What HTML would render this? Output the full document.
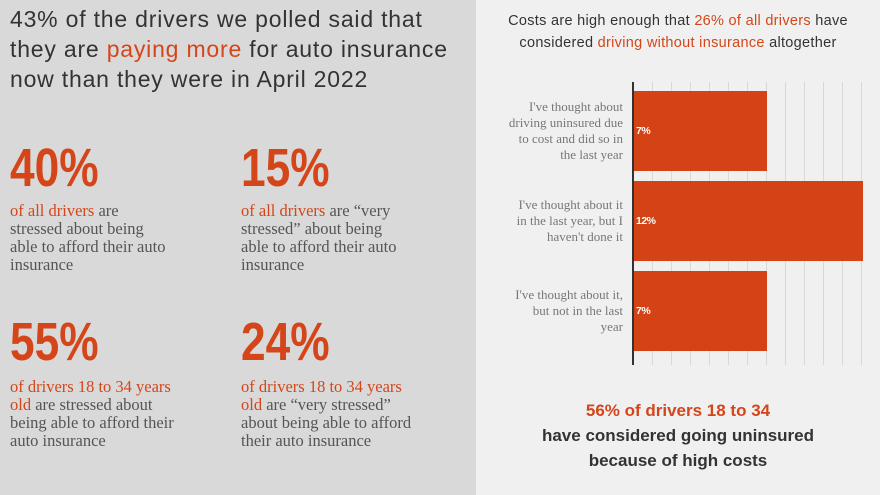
<!DOCTYPE html>
<html><head><meta charset="utf-8"><style>
*{margin:0;padding:0;box-sizing:border-box}
body{width:880px;height:495px;overflow:hidden;font-family:"Liberation Sans",sans-serif;position:relative;background:#f0f0f0}
.left{position:absolute;left:0;top:0;width:476px;height:495px;background:#d9d9d9}
.o{color:#d4461a}
.h{position:absolute;left:10px;top:4px;font-size:23px;line-height:30px;color:#333;letter-spacing:0.8px;white-space:nowrap}
.big{position:absolute;font-weight:bold;font-size:54px;line-height:54px;color:#d4461a;letter-spacing:0px;transform:scaleX(0.82);transform-origin:left top}
.d{position:absolute;font-family:"Liberation Serif",serif;font-size:16.5px;line-height:18px;color:#555;white-space:nowrap}
.lab{position:absolute;font-family:"Liberation Serif",serif;font-size:13px;line-height:16px;color:#777;text-align:right;width:115px;left:508px}
.bar{position:absolute;left:634px;background:#d44315;height:80px}
.bl{position:absolute;left:636px;color:#fff;font-weight:bold;font-size:10.5px;letter-spacing:-0.5px}
.g{position:absolute;top:82px;height:283px;width:1px;background:#d8d8d8}
</style></head><body>
<div class="left">
<div class="h">43% of the drivers we polled said that<br>they are <span class="o">paying more</span> for auto insurance<br>now than they were in April 2022</div>
<div class="big" style="left:10px;top:141px">40%</div>
<div class="big" style="left:241px;top:141px">15%</div>
<div class="d" style="left:10px;top:202px"><span class="o">of all drivers</span> are<br>stressed about being<br>able to afford their auto<br>insurance</div>
<div class="d" style="left:241px;top:202px"><span class="o">of all drivers</span> are “very<br>stressed” about being<br>able to afford their auto<br>insurance</div>
<div class="big" style="left:10px;top:315px">55%</div>
<div class="big" style="left:241px;top:315px">24%</div>
<div class="d" style="left:10px;top:378px"><span class="o">of drivers 18 to 34 years<br>old</span> are stressed about<br>being able to afford their<br>auto insurance</div>
<div class="d" style="left:241px;top:378px"><span class="o">of drivers 18 to 34 years<br>old</span> are “very stressed”<br>about being able to afford<br>their auto insurance</div>
</div>
<div style="position:absolute;left:476px;width:404px;top:10px;text-align:center;font-size:14.5px;line-height:22px;color:#333;letter-spacing:0.3px">Costs are high enough that <span class="o">26% of all drivers</span> have<br>considered <span class="o">driving without insurance</span> altogether</div>
<div class="g" style="left:652px"></div><div class="g" style="left:671px"></div><div class="g" style="left:690px"></div><div class="g" style="left:709px"></div><div class="g" style="left:728px"></div><div class="g" style="left:747px"></div><div class="g" style="left:766px"></div><div class="g" style="left:785px"></div><div class="g" style="left:804px"></div><div class="g" style="left:823px"></div><div class="g" style="left:842px"></div><div class="g" style="left:861px"></div>
<div style="position:absolute;left:632px;top:82px;width:2px;height:283px;background:#333"></div>
<div class="bar" style="top:91px;width:133px"></div>
<div class="bar" style="top:181px;width:229px"></div>
<div class="bar" style="top:271px;width:133px"></div>
<div class="bl" style="top:125px">7%</div>
<div class="bl" style="top:215px">12%</div>
<div class="bl" style="top:305px">7%</div>
<div class="lab" style="top:99px">I've thought about<br>driving uninsured due<br>to cost and did so in<br>the last year</div>
<div class="lab" style="top:197px">I've thought about it<br>in the last year, but I<br>haven't done it</div>
<div class="lab" style="top:287px">I've thought about it,<br>but not in the last<br>year</div>
<div style="position:absolute;left:476px;width:404px;top:398px;text-align:center;font-weight:bold;font-size:17px;line-height:25px;color:#333"><span class="o">56% of drivers 18 to 34</span><br>have considered going uninsured<br>because of high costs</div>
</body></html>
